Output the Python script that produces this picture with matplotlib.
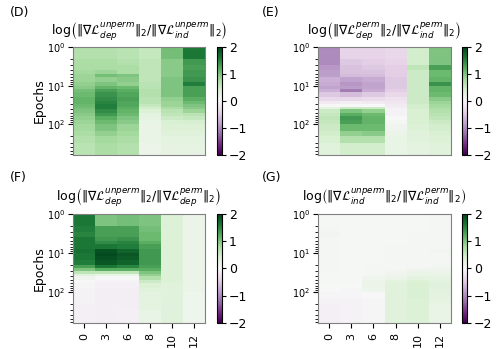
import numpy as np
import matplotlib
matplotlib.use("Agg")
from matplotlib import pyplot as plt

# layers shown on the x axis
layers = ["0", "3", "6", "8", "10", "12"]
# epoch band edges (log y axis)
epoch_edges = [1, 2, 3, 4, 5, 6, 8, 10, 12, 15, 20, 25, 30, 35, 40, 50, 60, 80, 100, 150, 200, 300, 630]

# log ratio per epoch band (rows) and layer (columns)
dep_ind_unperm = [
    [0.70, 0.70, 0.65, 0.55, 1.05, 1.60],
    [0.75, 0.75, 0.70, 0.60, 0.95, 1.35],
    [0.75, 0.75, 0.75, 0.60, 0.95, 1.30],
    [0.80, 0.85, 0.75, 0.60, 0.95, 1.35],
    [0.85, 1.05, 1.00, 0.60, 0.95, 1.35],
    [0.85, 0.90, 0.95, 0.60, 1.00, 1.40],
    [0.90, 1.00, 0.90, 0.65, 1.00, 1.55],
    [0.95, 1.15, 1.10, 0.65, 1.00, 1.30],
    [1.05, 1.30, 1.20, 0.70, 1.00, 1.30],
    [1.10, 1.40, 1.25, 0.70, 1.00, 1.30],
    [1.15, 1.45, 1.30, 0.65, 0.90, 1.20],
    [1.15, 1.50, 1.25, 0.65, 0.85, 1.10],
    [1.10, 1.55, 1.25, 0.55, 0.85, 1.00],
    [1.05, 1.55, 1.20, 0.45, 0.75, 0.95],
    [1.00, 1.45, 1.15, 0.35, 0.65, 0.85],
    [0.95, 1.35, 1.10, 0.25, 0.60, 0.65],
    [0.90, 1.20, 1.00, 0.22, 0.50, 0.55],
    [0.85, 1.10, 0.95, 0.20, 0.40, 0.42],
    [0.80, 1.00, 0.85, 0.18, 0.35, 0.35],
    [0.75, 0.90, 0.80, 0.18, 0.30, 0.30],
    [0.70, 0.80, 0.75, 0.18, 0.25, 0.26],
    [0.65, 0.75, 0.70, 0.15, 0.22, 0.22],
]

dep_ind_perm = [
    [-1.00, -0.40, -0.40, -0.35, 0.45, 1.00],
    [-1.00, -0.50, -0.45, -0.40, 0.45, 1.00],
    [-0.90, -0.55, -0.50, -0.45, 0.60, 1.30],
    [-0.85, -0.55, -0.55, -0.45, 0.50, 1.10],
    [-0.85, -0.60, -0.60, -0.45, 0.50, 1.10],
    [-0.70, -0.80, -0.75, -0.50, 0.50, 1.15],
    [-0.75, -0.90, -0.80, -0.50, 0.50, 1.40],
    [-0.80, -0.85, -0.80, -0.50, 0.50, 1.15],
    [-0.70, -1.10, -0.75, -0.45, 0.50, 1.15],
    [-0.50, -0.60, -0.50, -0.35, 0.50, 1.10],
    [-0.35, -0.35, -0.30, -0.25, 0.50, 0.95],
    [-0.15, -0.10, -0.15, -0.20, 0.50, 0.85],
    [0.00, 0.00, 0.00, -0.15, 0.45, 0.80],
    [0.25, 0.50, 0.50, -0.08, 0.45, 0.75],
    [0.50, 1.00, 0.90, -0.05, 0.40, 0.70],
    [0.55, 1.20, 1.10, -0.05, 0.40, 0.65],
    [0.60, 1.35, 1.15, 0.00, 0.40, 0.60],
    [0.55, 1.30, 1.15, 0.05, 0.40, 0.50],
    [0.50, 1.10, 1.10, 0.10, 0.35, 0.45],
    [0.45, 0.90, 0.95, 0.15, 0.30, 0.40],
    [0.40, 0.70, 0.70, 0.20, 0.30, 0.35],
    [0.30, 0.45, 0.45, 0.20, 0.25, 0.30],
]

dep_unperm_perm = [
    [1.60, 1.00, 1.05, 1.00, 0.35, 0.15],
    [1.55, 1.30, 1.30, 1.05, 0.35, 0.15],
    [1.50, 1.30, 1.30, 1.10, 0.35, 0.15],
    [1.60, 1.35, 1.40, 1.10, 0.35, 0.15],
    [1.60, 1.45, 1.50, 1.20, 0.35, 0.15],
    [1.60, 1.60, 1.55, 1.30, 0.35, 0.15],
    [1.65, 1.90, 1.75, 1.35, 0.35, 0.15],
    [1.60, 1.95, 1.85, 1.35, 0.35, 0.15],
    [1.60, 1.90, 1.80, 1.35, 0.35, 0.15],
    [1.55, 1.85, 1.75, 1.35, 0.35, 0.15],
    [1.30, 1.60, 1.50, 1.30, 0.35, 0.15],
    [1.00, 1.20, 1.20, 1.20, 0.35, 0.15],
    [0.60, 0.60, 0.60, 1.00, 0.35, 0.15],
    [0.30, 0.20, 0.20, 0.90, 0.35, 0.15],
    [0.10, 0.00, 0.00, 0.70, 0.35, 0.15],
    [0.00, -0.05, -0.05, 0.50, 0.35, 0.15],
    [-0.03, -0.08, -0.08, 0.35, 0.30, 0.15],
    [-0.05, -0.10, -0.10, 0.30, 0.30, 0.15],
    [-0.05, -0.10, -0.10, 0.25, 0.30, 0.12],
    [-0.05, -0.10, -0.10, 0.25, 0.30, 0.12],
    [-0.08, -0.10, -0.10, 0.25, 0.30, 0.12],
    [-0.08, -0.10, -0.08, 0.20, 0.30, 0.12],
]

ind_unperm_perm = [
    [0.03, 0.02, 0.02, 0.02, 0.03, 0.04],
    [0.06, 0.03, 0.03, 0.03, 0.03, 0.04],
    [0.08, 0.03, 0.03, 0.03, 0.04, 0.05],
    [0.06, 0.03, 0.03, 0.03, 0.04, 0.05],
    [0.06, 0.03, 0.03, 0.03, 0.04, 0.06],
    [0.05, 0.03, 0.03, 0.04, 0.05, 0.06],
    [0.05, 0.03, 0.03, 0.04, 0.05, 0.08],
    [0.05, 0.03, 0.03, 0.04, 0.05, 0.06],
    [0.05, 0.03, 0.03, 0.04, 0.05, 0.06],
    [0.05, 0.03, 0.03, 0.04, 0.05, 0.06],
    [0.04, 0.03, 0.04, 0.05, 0.06, 0.07],
    [0.04, 0.03, 0.04, 0.06, 0.10, 0.10],
    [0.03, 0.03, 0.05, 0.08, 0.15, 0.15],
    [0.03, 0.02, 0.06, 0.10, 0.20, 0.20],
    [0.02, 0.02, 0.12, 0.15, 0.25, 0.22],
    [0.02, 0.02, 0.15, 0.25, 0.35, 0.25],
    [0.01, 0.00, 0.15, 0.30, 0.40, 0.30],
    [0.00, -0.02, 0.12, 0.30, 0.40, 0.28],
    [-0.02, -0.04, 0.00, 0.30, 0.38, 0.25],
    [-0.05, -0.05, -0.02, 0.30, 0.35, 0.22],
    [-0.08, -0.06, -0.03, 0.30, 0.35, 0.18],
    [-0.08, -0.06, -0.03, 0.30, 0.35, 0.18],
]

titles = [
    r"$\mathrm{log}\left(\|\nabla\mathcal{L}_{dep}^{unperm}\|_2/\|\nabla\mathcal{L}_{ind}^{unperm}\|_2\right)$",
    r"$\mathrm{log}\left(\|\nabla\mathcal{L}_{dep}^{perm}\|_2/\|\nabla\mathcal{L}_{ind}^{perm}\|_2\right)$",
    r"$\mathrm{log}\left(\|\nabla\mathcal{L}_{dep}^{unperm}\|_2/\|\nabla\mathcal{L}_{dep}^{perm}\|_2\right)$",
    r"$\mathrm{log}\left(\|\nabla\mathcal{L}_{ind}^{unperm}\|_2/\|\nabla\mathcal{L}_{ind}^{perm}\|_2\right)$",
]
panel_tags = ["(D)", "(E)", "(F)", "(G)"]
panels = [dep_ind_unperm, dep_ind_perm, dep_unperm_perm, ind_unperm_perm]

fig = plt.figure(figsize=(4.98, 3.49), dpi=100)

# axes boxes in figure fractions: [left, bottom, width, height]
boxes = [
    [0.1466, 0.556, 0.265, 0.309],
    [0.6386, 0.556, 0.267, 0.309],
    [0.1466, 0.0745, 0.265, 0.313],
    [0.6386, 0.0745, 0.267, 0.313],
]
cbar_x = [0.4357, 0.9277]
tag_pos = [(0.02, 0.965), (0.525, 0.965), (0.02, 0.49), (0.525, 0.49)]

x_edges = np.arange(len(layers) + 1)
for i, data in enumerate(panels):
    box = boxes[i]
    ax = fig.add_axes(box)
    mesh = ax.pcolormesh(x_edges, epoch_edges, np.array(data), cmap="PRGn", vmin=-2, vmax=2)
    ax.set_yscale("log")
    ax.set_ylim(epoch_edges[-1], epoch_edges[0])
    ax.set_xlim(x_edges[0], x_edges[-1])
    ax.set_title(titles[i], fontsize=9, pad=8.5)
    ax.tick_params(axis="y", labelsize=7, pad=2)
    for s in ax.spines.values():
        s.set_color("0.5")
    if i >= 2:
        ax.set_xticks(x_edges[:-1] + 0.5)
        ax.set_xticklabels(layers, rotation=90, fontsize=8)
    else:
        ax.set_xticks([])
    if i % 2 == 0:
        ax.set_ylabel("Epochs", fontsize=9, labelpad=1)

    cax = fig.add_axes([cbar_x[i % 2], box[1], 0.011, box[3]])
    cb = fig.colorbar(mesh, cax=cax, ticks=[-2, -1, 0, 1, 2])
    cb.ax.tick_params(labelsize=9, pad=1.5, length=3)

    fig.text(tag_pos[i][0], tag_pos[i][1], panel_tags[i], fontsize=9, va="center")

plt.savefig("out.png", dpi=100)
